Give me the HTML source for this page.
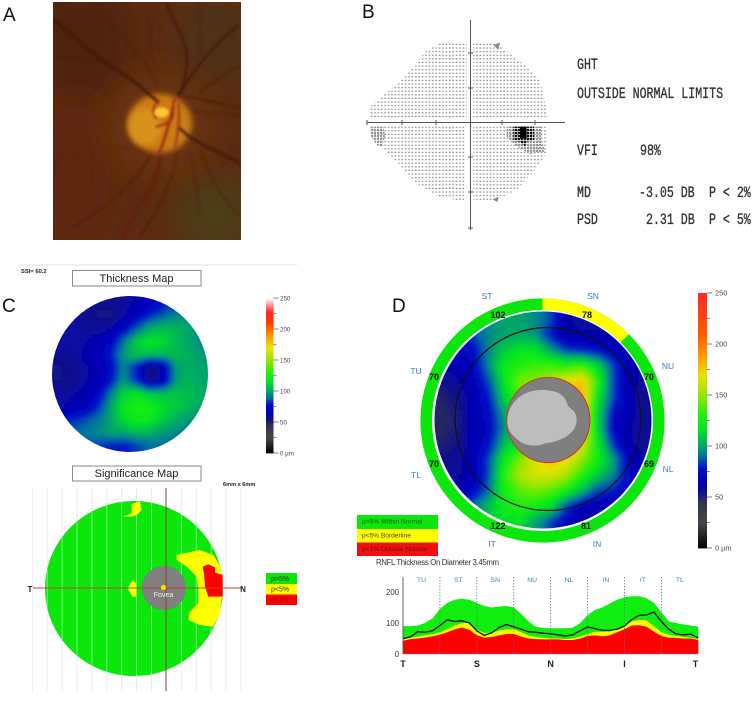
<!DOCTYPE html>
<html>
<head>
<meta charset="utf-8">
<style>
html,body{margin:0;padding:0;background:#fff;width:755px;height:701px;overflow:hidden}
svg{display:block;font-family:"Liberation Sans",sans-serif}
</style>
</head>
<body>
<svg id="fig" xmlns="http://www.w3.org/2000/svg" width="755" height="701" viewBox="0 0 755 701">
<defs>
  <filter id="blur1" x="-5%" y="-5%" width="110%" height="110%"><feGaussianBlur stdDeviation="2.2"/></filter>
  <filter id="blurVes" x="-10%" y="-10%" width="120%" height="120%"><feGaussianBlur stdDeviation="3.6"/></filter>
  <filter id="blurD" x="-30%" y="-30%" width="160%" height="160%"><feGaussianBlur stdDeviation="9"/></filter>
  <filter id="blurL" x="-60%" y="-60%" width="220%" height="220%"><feGaussianBlur stdDeviation="16"/></filter>
  <filter id="soft" x="-5%" y="-5%" width="110%" height="110%"><feGaussianBlur stdDeviation="1"/></filter>
  <clipPath id="clipPhoto"><rect x="53" y="2" width="188" height="238"/></clipPath>
  <clipPath id="clipThick"><circle cx="130" cy="374" r="78"/></clipPath>
  <clipPath id="clipRnfl"><circle cx="543" cy="420" r="108.5"/></clipPath>
  <pattern id="vfDots" patternUnits="userSpaceOnUse" width="10.2" height="10.8">
    <rect x="1" y="2" width="5" height="3.5" fill="#8a8a8a"/>
  </pattern>
  <pattern id="vfDark" patternUnits="userSpaceOnUse" width="9" height="9">
    <rect x="0" y="0" width="6.5" height="6.5" fill="#969696"/>
  </pattern>
  <pattern id="vfBlack" patternUnits="userSpaceOnUse" width="9" height="9">
    <rect x="0" y="0" width="7" height="6.5" fill="#111"/>
  </pattern>
</defs>

<!-- Panel labels -->
<g font-size="19" fill="#111">
  <text x="3" y="21">A</text>
  <text x="362" y="18">B</text>
  <text x="2" y="312">C</text>
  <text x="392" y="312">D</text>
</g>

<!-- Panel A: fundus -->
<g clip-path="url(#clipPhoto)">
  <rect x="53" y="2" width="188" height="238" fill="#5c2b12"/>
  <ellipse cx="80" cy="40" rx="50" ry="60" fill="#4f230e" filter="url(#blurL)"/>
  <ellipse cx="75" cy="170" rx="35" ry="70" fill="#5e2610" filter="url(#blurL)"/>
  <ellipse cx="215" cy="215" rx="40" ry="40" fill="#4c3d18" filter="url(#blurL)"/>
  <ellipse cx="215" cy="40" rx="40" ry="50" fill="#4f3215" filter="url(#blurL)"/>
  <ellipse cx="160" cy="125" rx="50" ry="50" fill="#6c340e" filter="url(#blurL)"/>
  <g transform="translate(50,0) scale(0.3333)" fill="none" stroke-linecap="round">
    <ellipse cx="330" cy="370" rx="96" ry="88" fill="#c97c16" filter="url(#blurD)"/>
    <ellipse cx="285" cy="380" rx="50" ry="55" fill="#d8921c" filter="url(#blurD)"/>
    <g filter="url(#blurVes)">
      <path d="M10,60C80,110 130,170 200,210S300,290 325,305" stroke="#40170e" stroke-width="8"/>
      <path d="M350,10C370,70 420,130 410,200S395,260 385,285" stroke="#45190e" stroke-width="6"/>
      <path d="M565,75C500,130 430,200 390,285" stroke="#42190e" stroke-width="6"/>
      <path d="M330,470C330,560 240,640 220,715" stroke="#641a0e" stroke-width="8"/>
      <path d="M300,470C260,540 180,620 70,680" stroke="#581a0e" stroke-width="5"/>
      <path d="M390,385C430,430 500,450 570,490" stroke="#3c120e" stroke-width="7"/>
      <path d="M400,290C450,290 520,320 570,320" stroke="#451b0e" stroke-width="4"/>
      <path d="M430,335C470,340 530,345 570,345" stroke="#50200e" stroke-width="3"/>
      <path d="M10,170C60,170 110,175 150,185" stroke="#4a1a0e" stroke-width="4"/>
      <path d="M120,20C200,80 280,170 320,250" stroke="#4a1f0e" stroke-width="3"/>
      <path d="M565,200C510,230 480,250 450,280" stroke="#4a1f0e" stroke-width="4"/>
      <path d="M445,10C450,60 455,110 455,170" stroke="#4a1f0e" stroke-width="3"/>
      <path d="M380,460C370,540 330,620 270,710" stroke="#501c0e" stroke-width="4"/>
      <path d="M420,460C440,530 440,590 450,640" stroke="#501f0e" stroke-width="3"/>
      <path d="M450,450C490,550 520,600 570,650" stroke="#4a230e" stroke-width="3"/>
      <path d="M20,480C100,430 200,430 290,460" stroke="#552510" stroke-width="2"/>
      <path d="M375,295C355,340 395,360 320,380" stroke="#a02c18" stroke-width="7"/>
      <path d="M370,320C350,400 340,430 325,465" stroke="#a02a16" stroke-width="8"/>
      <path d="M325,300C310,320 305,340 320,355" stroke="#a02c18" stroke-width="6"/>
      <path d="M385,310C390,350 385,400 375,440" stroke="#9a2e16" stroke-width="6"/>
    </g>
    <ellipse cx="335" cy="337" rx="22" ry="15" fill="#ffc830" filter="url(#blurVes)"/>
  </g>
</g>

<!-- Panel B: visual field -->
<g>
  <g transform="translate(350,0) scale(0.3333)" filter="url(#soft)">
    <path d="M270,130L350,130L350,355L60,355L60,320L160,235L230,150Z" fill="url(#vfDots)"/>
    <path d="M370,130L440,130L530,200L570,240L595,350L370,355Z" fill="url(#vfDots)"/>
    <path d="M370,380L590,380L590,460L555,510L500,570L430,605L370,605Z" fill="url(#vfDots)"/>
    <path d="M345,380L60,380L90,435L145,490L200,550L265,590L345,605Z" fill="url(#vfDots)"/>
    <path d="M60,380L100,380L105,410L95,440L80,435L60,405Z" fill="url(#vfDark)"/>
    <path d="M470,380L575,380L575,420L585,455L540,462L500,440L470,410Z" fill="url(#vfDark)"/>
    <path d="M490,380L552,380L552,420L530,425L525,440L510,425L490,420Z" fill="url(#vfBlack)"/>
    <rect x="510" y="380" width="20" height="36" fill="#000"/>
    <path d="M430,135L450,128L445,150Z" fill="#8a8a8a"/>
    <path d="M428,598L446,590L442,606Z" fill="#8a8a8a"/>
  </g>
  <g stroke="#555" stroke-width="1">
    <line x1="470.5" y1="20" x2="470.5" y2="230"/>
    <line x1="367" y1="122.5" x2="565" y2="122.5"/>
    <path d="M402,120V125M436,120V125M502,120V125M535,120V125M367,120V125M468,53H473M468,88H473M468,157H473M468,192H473M468,228H473"/>
  </g>
  <g font-family="'Liberation Mono',monospace" font-size="11.6" fill="#333" stroke="#333" stroke-width="0.25">
    <text transform="translate(577,69) scale(1,1.35)">GHT</text>
    <text transform="translate(577,98) scale(1,1.35)">OUTSIDE NORMAL LIMITS</text>
    <text transform="translate(577,155) scale(1,1.35)">VFI</text>
    <text transform="translate(640,155) scale(1,1.35)">98%</text>
    <text transform="translate(577,197) scale(1,1.35)">MD</text>
    <text transform="translate(639,197) scale(1,1.35)">-3.05 DB</text>
    <text transform="translate(709,197) scale(1,1.35)">P &lt; 2%</text>
    <text transform="translate(577,224) scale(1,1.35)">PSD</text>
    <text transform="translate(646,224) scale(1,1.35)">2.31 DB</text>
    <text transform="translate(709,224) scale(1,1.35)">P &lt; 5%</text>
  </g>
</g>

<!-- Panel C header -->
<line x1="20" y1="265" x2="297" y2="265" stroke="#e2e2e2" stroke-width="1"/>
<text x="21" y="273" font-size="5.8" font-weight="bold" fill="#222">SSI= 60.2</text>
<g>
  <rect x="72.5" y="270.5" width="128.5" height="15.5" fill="#fff" stroke="#8a8a8a"/>
  <text x="136.5" y="282" text-anchor="middle" font-size="11" fill="#222">Thickness Map</text>
</g>
<g clip-path="url(#clipThick)">
  <g id="thickCells" filter="url(#blur1)"></g>
</g>
<g id="thickBar"></g>

<g>
  <rect x="72.5" y="466" width="128.5" height="15" fill="#fff" stroke="#8a8a8a"/>
  <text x="136.5" y="477" text-anchor="middle" font-size="11" fill="#222">Significance Map</text>
</g>
<text x="223" y="486" font-size="5.6" font-weight="bold" fill="#222">6mm x 6mm</text>

<!-- Significance map -->
<g>
  <g id="sigGridBelow" stroke="#e6e6e6" stroke-width="0.8"></g>
  <ellipse cx="134" cy="588.5" rx="89" ry="87.5" fill="#0be60b"/>
  <g id="sigGridAbove" stroke="#8ff48f" stroke-width="0.8"></g>
  <g transform="translate(0,480) scale(0.3333)" filter="url(#soft)">
    <path d="M370,110L395,100L395,72L420,65L425,90L410,105L395,110Z" fill="#ffff00"/>
    <path d="M383,325L398,300L408,310L408,350L398,350Z" fill="#ffff00"/>
    <path d="M530,225L600,210L640,225L662,260L669,320L660,400L640,440L600,435L565,420L570,395L595,370L595,330L590,290L560,260L530,240Z" fill="#ffff00"/>
    <path d="M608,260L625,253L645,262L645,278L668,285L668,350L625,350L615,320L612,280Z" fill="#ff0000"/>
  </g>
  <circle cx="164" cy="588" r="22" fill="#808080"/>
  <line x1="33" y1="588" x2="241" y2="588" stroke="#c04040" stroke-width="1"/>
  <line x1="166" y1="488" x2="166" y2="691" stroke="#8a3c3c" stroke-width="1"/>
  <circle cx="163.5" cy="587.5" r="2.6" fill="#ffdd00"/>
  <text x="163.5" y="597" text-anchor="middle" font-size="7" fill="#eee">Fovea</text>
  <text x="30" y="592" text-anchor="middle" font-size="8" font-weight="bold" fill="#222">T</text>
  <text x="243" y="592" text-anchor="middle" font-size="8" font-weight="bold" fill="#222">N</text>
  <g font-size="7">
    <rect x="266" y="573" width="31" height="11" fill="#0be60b"/>
    <rect x="266" y="584" width="31" height="10.5" fill="#ffff00"/>
    <rect x="266" y="594.5" width="31" height="10.5" fill="#ff0000"/>
    <text x="271" y="581" fill="#333">p&gt;5%</text>
    <text x="271" y="591.5" fill="#333">p&lt;5%</text>
    <text x="271" y="602" fill="#7a1010">p&lt;1%</text>
  </g>
</g>

<!-- Panel D map -->
<g>
  <circle cx="542.5" cy="420.5" r="116.3" fill="none" stroke="#0be60b" stroke-width="11.6"/>
  <path d="M542.5,304.2A116.3,116.3 0 0 1 624.7,338.3" fill="none" stroke="#ffff00" stroke-width="11.6"/>
  <g clip-path="url(#clipRnfl)">
    <g id="rnflCells" filter="url(#blur1)"></g>
  </g>
  <ellipse cx="548" cy="419" rx="93" ry="91.5" fill="none" stroke="#111" stroke-width="1.2"/>
  <g transform="translate(345,280) scale(0.3333)">
    <ellipse cx="610" cy="420" rx="125" ry="128" fill="#7f7f7f" stroke="#c83828" stroke-width="3"/>
    <path d="M487,420C490,370 530,330 590,330C630,330 660,340 668,375C675,388 695,390 695,420C695,460 650,485 600,490C580,500 540,500 520,480C500,465 485,450 487,420Z" fill="#bdbdbd"/>
  </g>
  <g font-size="8.5" fill="#3d80c8" text-anchor="middle">
    <text x="487" y="299">ST</text>
    <text x="593" y="299">SN</text>
    <text x="416" y="374">TU</text>
    <text x="668" y="369">NU</text>
    <text x="416" y="478">TL</text>
    <text x="668" y="472">NL</text>
    <text x="492" y="547">IT</text>
    <text x="597" y="547">IN</text>
  </g>
  <g font-size="9" font-weight="bold" fill="#111" text-anchor="middle">
    <text x="498" y="318">102</text>
    <text x="587" y="318">78</text>
    <text x="434" y="380">70</text>
    <text x="649" y="380">70</text>
    <text x="434" y="467">70</text>
    <text x="649" y="467">69</text>
    <text x="498" y="529">122</text>
    <text x="586" y="529">81</text>
  </g>
  <g font-size="6.6">
    <rect x="357" y="515" width="81" height="14" fill="#0be60b"/>
    <rect x="357" y="529" width="81" height="13.5" fill="#ffff00"/>
    <rect x="357" y="542.5" width="81" height="13.5" fill="#ee1010"/>
    <text x="362" y="523.5" fill="#1a5a1a">p&gt;5% Within Normal</text>
    <text x="362" y="537.5" fill="#444">p&lt;5% Borderline</text>
    <text x="362" y="551" fill="#6a1010">p&lt;1% Outside Normal</text>
  </g>
  <g id="rnflBar"></g>
  <text x="376" y="565" font-size="7.8" fill="#333" textLength="123">RNFL Thickness On Diameter 3.45mm</text>
</g>

<!-- TSNIT chart -->
<g id="tsnit"></g>

<script>
// ---- Thickness map values (µm), rows top to bottom ----
var thicknessGrid = [
 [60,60,58,55,55,58,62,68,75,82,88,92],
 [62,60,56,54,54,60,68,80,88,94,96,97],
 [62,60,58,58,60,70,88,102,106,104,100,96],
 [60,60,60,64,70,92,110,118,114,106,100,95],
 [56,58,62,66,78,98,108,106,104,106,102,98],
 [54,55,60,62,72,95,78,52,62,98,102,100],
 [54,56,60,64,76,98,80,54,64,98,104,100],
 [58,60,62,70,92,112,118,108,106,108,106,102],
 [60,62,66,80,100,118,128,125,115,110,105,100],
 [65,80,85,92,100,115,122,120,110,102,98,95],
 [78,90,92,95,100,100,105,103,98,95,92,90],
 [78,82,85,85,80,78,84,90,90,88,85,80]
];
// ---- RNFL map values (µm), rows top to bottom ----
var rnflGrid = [
 [85,85,90,95,100,100,95,85,62,58,58,60,60,60],
 [70,78,85,95,100,102,98,78,62,62,62,62,60,60],
 [65,68,75,95,110,118,118,100,85,80,75,70,62,60],
 [62,64,70,95,122,130,135,135,130,135,115,85,65,58],
 [55,60,68,85,118,145,148,155,170,180,130,85,65,58],
 [50,55,65,78,110,135,145,165,175,185,120,85,65,56],
 [48,52,66,74,100,125,145,155,170,170,115,75,65,56],
 [48,52,64,72,95,120,145,155,170,170,115,70,62,56],
 [50,55,65,75,105,122,145,160,175,165,122,82,62,58],
 [55,58,66,85,120,145,165,182,172,150,125,100,70,60],
 [58,60,65,85,130,155,165,165,155,130,110,95,72,62],
 [60,62,72,90,125,140,145,140,125,105,85,80,70,62],
 [62,70,90,105,125,130,125,115,85,70,62,62,62,62],
 [70,85,100,110,115,115,100,85,70,60,58,58,60,62]
];
// ---- TSNIT profile series (µm) ----
var normalRed = [43,48,50,53,57,62,70,80,85,78,60,53,55,60,65,65,56,50,48,47,47,47,45,45,50,58,60,57,60,70,80,92,93,88,72,58,53,52,50,50,45];
var normalYellow = [46,53,56,60,64,70,80,92,100,100,78,68,68,75,80,80,70,60,55,52,50,50,48,50,56,65,72,72,72,80,92,105,110,108,90,70,62,58,55,52,48];
var normalGreen = [90,90,92,100,115,145,165,175,178,175,165,155,150,153,155,150,130,105,88,84,83,83,83,85,100,125,142,150,163,175,183,186,186,180,165,135,105,100,95,92,88];
var measuredRnfl = [50,55,72,70,75,92,110,105,107,100,75,60,68,85,95,88,80,72,70,67,65,62,58,62,75,87,82,76,76,80,90,112,125,126,135,105,80,65,62,64,52];
var sectorNames = ["TU","ST","SN","NU","NL","IN","IT","TL"];
var quadrantNames = ["T","S","N","I","T"];
var yTicks = [0,100,200];
var barTicksMajor = [0,50,100,150,200,250];
var barTicksMinor = [25,75,125,175,225];

var NS = "http://www.w3.org/2000/svg";
function mk(parent, tag, attrs) {
  var e = document.createElementNS(NS, tag);
  for (var k in attrs) e.setAttribute(k, attrs[k]);
  parent.appendChild(e);
  return e;
}

var stopsRight = [[0,0,0,0],[25,70,70,70],[45,50,50,80],[55,15,15,140],[65,0,0,180],[78,0,15,200],[90,0,110,165],[100,0,165,105],[115,0,225,40],[130,30,240,10],[150,150,230,0],[170,235,225,0],[190,255,150,0],[210,255,90,0],[250,255,40,40]];
var stopsLeft = [[0,0,0,0],[25,70,70,70],[45,50,50,80],[55,15,15,140],[65,0,0,185],[78,0,15,200],[90,0,110,165],[100,0,165,105],[115,0,225,40],[130,30,240,10],[150,150,230,0],[170,235,225,0],[190,255,150,0],[210,255,60,0],[228,255,40,40],[250,255,255,255]];
function colorOf(v, stops) {
  if (v <= stops[0][0]) return "rgb(" + stops[0].slice(1).join(",") + ")";
  for (var i = 1; i < stops.length; i++) {
    if (v <= stops[i][0]) {
      var a = stops[i-1], b = stops[i], t = (v - a[0]) / (b[0] - a[0]);
      return "rgb(" + Math.round(a[1]+(b[1]-a[1])*t) + "," + Math.round(a[2]+(b[2]-a[2])*t) + "," + Math.round(a[3]+(b[3]-a[3])*t) + ")";
    }
  }
  var l = stops[stops.length-1];
  return "rgb(" + l.slice(1).join(",") + ")";
}
function sampleGrid(grid, fx, fy) {
  var rows = grid.length, cols = grid[0].length;
  var cx = Math.max(0, Math.min(cols-1, fx)), cy = Math.max(0, Math.min(rows-1, fy));
  var x0 = Math.floor(cx), y0 = Math.floor(cy), x1 = Math.min(cols-1, x0+1), y1 = Math.min(rows-1, y0+1);
  var tx = cx-x0, ty = cy-y0;
  return (grid[y0][x0]*(1-tx)+grid[y0][x1]*tx)*(1-ty) + (grid[y1][x0]*(1-tx)+grid[y1][x1]*tx)*ty;
}
function drawHeat(target, grid, left, top, cell, stops, name) {
  var step = 3, w = grid[0].length*cell, h = grid.length*cell;
  for (var y = -6; y < h+6; y += step) {
    for (var x = -6; x < w+6; x += step) {
      var v = sampleGrid(grid, (x+step/2)/cell-0.5, (y+step/2)/cell-0.5);
      var r = mk(target, "rect", {x:left+x, y:top+y, width:step+0.4, height:step+0.4, fill:colorOf(v, stops)});
      
      
    }
  }
}
drawHeat(document.getElementById("thickCells"), thicknessGrid, 52, 296, 13, stopsLeft, 'thickness-cell');
drawHeat(document.getElementById("rnflCells"), rnflGrid, 434.5, 312, 15.5, stopsRight, 'rnfl-cell');

function drawBar(target, x, w, y0, y250, stops, labelX, fs, tickColor) {
  var sy = function (v) { return y0 + (y250-y0)*v/250; };
  for (var v = 0; v < 250; v += 1) {
    var r = mk(target, "rect", {x:x, y:sy(v+1), width:w, height:Math.abs(sy(v+1)-sy(v))+0.4, fill:colorOf(v+0.5, stops)});
    
    
  }
  barTicksMajor.forEach(function (t) {
    var l = mk(target, "line", {x1:x+w, x2:x+w+5, y1:sy(t), y2:sy(t), stroke:tickColor, "stroke-width":0.8});
    
    
    var tx = mk(target, "text", {x:labelX, y:sy(t)+2.6, "font-size":fs, fill:"#444"});
    tx.textContent = t === 0 ? "0 µm" : String(t);
    
    
  });
  barTicksMinor.forEach(function (t) {
    var l = mk(target, "line", {x1:x+w, x2:x+w+3, y1:sy(t), y2:sy(t), stroke:tickColor, "stroke-width":0.7});
    
    
  });
}
drawBar(document.getElementById("thickBar"), 266, 7.5, 453, 298, stopsLeft, 280, 6.2, "#666");
drawBar(document.getElementById("rnflBar"), 698, 9, 548, 293, stopsRight, 715, 7.4, "#555");

// Significance grid lines
var sigLinesCount = 15;
for (var i = 0; i < sigLinesCount; i++) {
  if (i === 9) continue;
  var lx = 32.3 + 14.9*i;
  var gl = mk(document.getElementById("sigGridBelow"), "line", {x1:lx, x2:lx, y1:488, y2:691});
  
  
  var dy = 1 - Math.pow((lx-134)/89, 2);
  if (dy > 0) {
    var half = 87.5*Math.sqrt(dy);
    var il = mk(document.getElementById("sigGridAbove"), "line", {x1:lx, x2:lx, y1:588.5-half, y2:588.5+half});
    
    
  }
}

// TSNIT chart
var chart = document.getElementById("tsnit");
var xLeft = 403, xRight = 698.3, yZero = 654, yPerUnit = 0.31;
function xScale(i, n) { return xLeft + (xRight-xLeft)*i/(n-1); }
function yScale(v) { return yZero - v*yPerUnit; }
function areaPath(series) {
  var d = "M" + xScale(0, series.length) + "," + yZero;
  series.forEach(function (v, i) { d += "L" + xScale(i, series.length).toFixed(1) + "," + yScale(v).toFixed(1); });
  return d + "L" + xScale(series.length-1, series.length) + "," + yZero + "Z";
}
var a1 = mk(chart, "path", {d:areaPath(normalGreen), fill:"#10ee10"});


var a2 = mk(chart, "path", {d:areaPath(normalYellow), fill:"#ffff00"});


var a3 = mk(chart, "path", {d:areaPath(normalRed), fill:"#ff0000"});



var sectorWidth = (xRight-xLeft)/sectorNames.length;
sectorNames.forEach(function (s, i) {
  if (i > 0) {
    var sx = xLeft + sectorWidth*i;
    var dv = mk(chart, "line", {x1:sx, x2:sx, y1:577, y2:yZero, stroke:"#4a7a8a", "stroke-width":0.8, "stroke-dasharray":"1.4 1.6"});
    
    
  }
  var st = mk(chart, "text", {x:xLeft+sectorWidth*(i+0.5), y:582, "text-anchor":"middle", "font-size":6.8, fill:"#3d80c8"});
  st.textContent = s;
  
  
});
var linePts = measuredRnfl.map(function (v, i) { return xScale(i, measuredRnfl.length).toFixed(1) + "," + yScale(v).toFixed(1); }).join(" ");
var ml = mk(chart, "polyline", {points:linePts, fill:"none", stroke:"#111", "stroke-width":1.3, "stroke-linejoin":"round"});



var ax = mk(chart, "line", {x1:xLeft, x2:xLeft, y1:577, y2:yZero, stroke:"#555", "stroke-width":0.9});


var bx = mk(chart, "line", {x1:xLeft, x2:xRight, y1:yZero, y2:yZero, stroke:"#888", "stroke-width":0.6});


yTicks.forEach(function (t) {
  var tk = mk(chart, "text", {x:xLeft-4, y:yScale(t)+2.8, "text-anchor":"end", "font-size":7.8, fill:"#333"});
  tk.textContent = String(t);
  
  
});
quadrantNames.forEach(function (q, i) {
  var qt = mk(chart, "text", {x:xScale(i, quadrantNames.length), y:667, "text-anchor":i === 4 ? "end" : "middle", "font-size":9, "font-weight":"bold", fill:"#222"});
  qt.textContent = q;
  
  
});
</script>
</svg>
</body>
</html>
